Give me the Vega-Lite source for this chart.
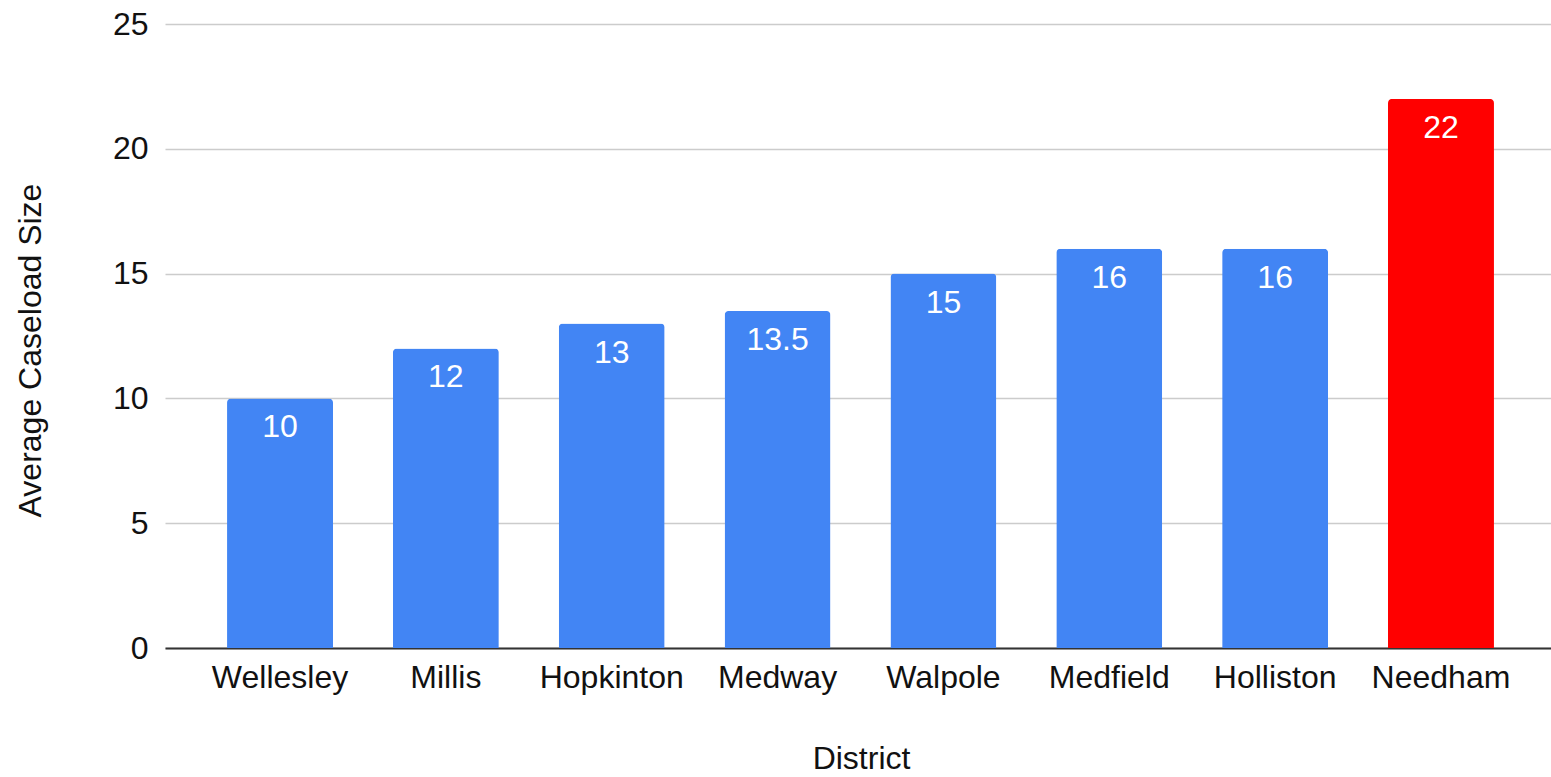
{
  "$schema": "https://vega.github.io/schema/vega-lite/v6.json",
  "autosize": "none",
  "width": 1386,
  "height": 624,
  "padding": {"left": 165, "top": 24, "right": 0, "bottom": 129},
  "background": "white",
  "config": {
    "font": "Liberation Sans",
    "view": {"stroke": null}
  },
  "data": {
    "values": [
      {"District": "Wellesley", "Size": 10, "Label": "10"},
      {"District": "Millis", "Size": 12, "Label": "12"},
      {"District": "Hopkinton", "Size": 13, "Label": "13"},
      {"District": "Medway", "Size": 13.5, "Label": "13.5"},
      {"District": "Walpole", "Size": 15, "Label": "15"},
      {"District": "Medfield", "Size": 16, "Label": "16"},
      {"District": "Holliston", "Size": 16, "Label": "16"},
      {"District": "Needham", "Size": 22, "Label": "22"}
    ]
  },
  "encoding": {
    "x": {
      "field": "District",
      "type": "nominal",
      "sort": null,
      "scale": {"paddingInner": 0.361, "paddingOuter": 0.374, "range": [0, 1391]},
      "axis": {
        "title": "District",
        "labelAngle": 0,
        "labelFontSize": 32,
        "labelColor": "#111",
        "labelPadding": 14,
        "ticks": false,
        "domainColor": "#333",
        "domainWidth": 2,
        "titleFontSize": 32,
        "titleFontWeight": "normal",
        "titleColor": "#111",
        "titleX": 696,
        "titleY": 120,
        "titleBaseline": "alphabetic"
      }
    },
    "y": {
      "field": "Size",
      "type": "quantitative",
      "scale": {"domain": [0, 25]},
      "axis": {
        "title": "Average Caseload Size",
        "values": [0, 5, 10, 15, 20, 25],
        "domain": false,
        "ticks": false,
        "labelFontSize": 32,
        "labelColor": "#111",
        "labelPadding": 17,
        "gridColor": "#cccccc",
        "gridWidth": 1.5,
        "titleFontSize": 32,
        "titleFontWeight": "normal",
        "titleColor": "#111",
        "titleX": -135,
        "titleY": 326,
        "titleAngle": -90,
        "titleAlign": "center",
        "titleBaseline": "middle"
      }
    }
  },
  "layer": [
    {
      "mark": {"type": "bar", "cornerRadiusTopLeft": 4, "cornerRadiusTopRight": 4},
      "encoding": {
        "color": {
          "condition": {"test": "datum.District === 'Needham'", "value": "#ff0000"},
          "value": "#4285f4"
        }
      }
    },
    {
      "mark": {"type": "text", "color": "white", "fontSize": 32, "baseline": "middle", "dy": 29},
      "encoding": {
        "text": {"field": "Label"}
      }
    }
  ]
}
